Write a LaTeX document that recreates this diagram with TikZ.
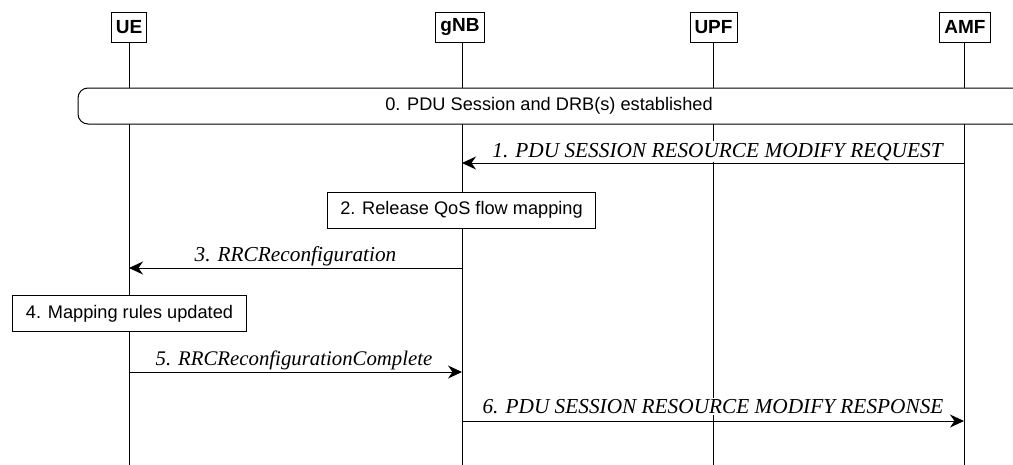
\documentclass[tikz,border=0pt]{standalone}
\usepackage{fontspec}
\setmainfont{Liberation Serif}
\setsansfont{Liberation Sans}
\usetikzlibrary{arrows.meta}
\tikzset{
  head/.style={draw, line width=1pt, fill=white, font=\sffamily\bfseries\fontsize{19}{21}\selectfont, minimum height=30pt, inner xsep=4.5pt, inner ysep=0pt},
  life/.style={line width=1pt},
  msg/.style={line width=1pt, -{Stealth[length=14pt,width=13pt,inset=4.5pt]}},
  lbl/.style={fill=white, font=\itshape\fontsize{21.3}{23}\selectfont, inner xsep=1pt, inner ysep=1.5pt, anchor=base},
  actbox/.style={draw, line width=1pt, fill=white, font=\sffamily\fontsize{18.2}{20}\selectfont, inner xsep=13pt, inner ysep=0pt, minimum height=36pt},
}
\begin{document}
\begin{tikzpicture}[x=1pt,y=-1pt]
\path[use as bounding box] (0,0) rectangle (1013,464);
\clip (0,0) rectangle (1013,464);
% headers
\node[head] (ue)  at (129,27) {UE};
\node[head] (gnb) at (460,27) {gNB};
\node[head] (upf) at (713.5,27) {UPF};
\node[head] (amf) at (965,27) {AMF};
\coordinate (ueb) at (129,470);
\coordinate (gnbb) at (462,470);
\coordinate (upfb) at (713,470);
\coordinate (amfb) at (964,470);
\draw[life] (ue.south -| ueb) -- (ueb);
\draw[life] (gnb.south -| gnbb) -- (gnbb);
\draw[life] (upf.south -| upfb) -- (upfb);
\draw[life] (amf.south -| amfb) -- (amfb);
% bar
\draw[line width=1pt, fill=white, rounded corners=10pt] (78,88) rectangle (1040,124);
\node[font=\sffamily\fontsize{18.2}{20}\selectfont] (bar) at (549,106) {0. PDU Session and DRB(s) established};
% 1
\coordinate (a1) at (964,163);
\coordinate (g1) at (462,163);
\node[lbl] (l1) at (717.5,157) {1. PDU SESSION RESOURCE MODIFY REQUEST};
\draw[msg] (a1) -- (g1);
% 2
\node[actbox] (b2) at (461.5,210) {2. Release QoS flow mapping};
% 3
\coordinate (g3) at (462,268);
\coordinate (u3) at (129,268);
\node[lbl] (l3) at (295.5,261) {3. RRCReconfiguration};
\draw[msg] (g3) -- (u3);
% 4
\node[actbox] (b4) at (129.5,313.5) {4. Mapping rules updated};
% 5
\coordinate (u5) at (129,372);
\coordinate (g5) at (462,372);
\node[lbl, font=\itshape\fontsize{20.8}{22}\selectfont] (l5) at (294,365) {5. RRCReconfigurationComplete};
\draw[msg] (u5) -- (g5);
% 6
\coordinate (g6) at (462,421);
\coordinate (a6) at (964,421);
\node[lbl] (l6) at (713,413.5) {6. PDU SESSION RESOURCE MODIFY RESPONSE};
\draw[msg] (g6) -- (a6);
\end{tikzpicture}
\end{document}
